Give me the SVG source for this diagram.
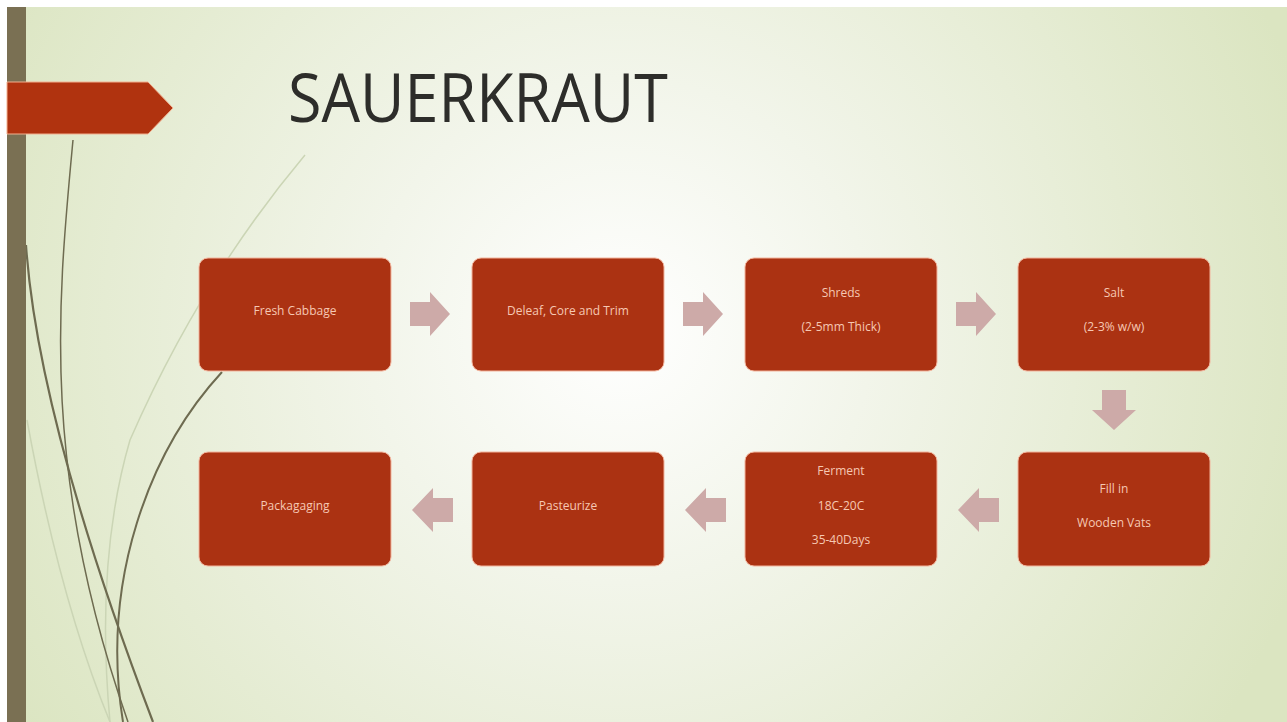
<svg xmlns="http://www.w3.org/2000/svg" width="1287" height="722" viewBox="0 0 1287 722">
<defs>
<radialGradient id="bg" cx="620" cy="330" r="720" gradientUnits="userSpaceOnUse">
<stop offset="0" stop-color="#ffffff"/>
<stop offset="0.35" stop-color="#f2f5ea"/>
<stop offset="1" stop-color="#dbe5c1"/>
</radialGradient>
<style>
.box{fill:#ab3212;stroke:#f3b49c;stroke-width:1}
.lbl{font-family:"Open Sans","Liberation Sans",sans-serif;font-size:12px;fill:#f6c8b3;text-anchor:middle;dominant-baseline:central}
.arr{fill:#cdaaa8}
.curve{fill:none;stroke:#6e6b50}
.faint{fill:none;stroke:#cbd5b5}
</style>
</defs>
<rect x="0" y="0" width="1287" height="722" fill="#ffffff"/>
<rect x="7" y="7" width="1280" height="715" fill="url(#bg)"/>
<g id="decor">
<path class="faint" stroke-width="1.5" d="M305 155 Q200 280 130 440 Q95 560 110 722"/>
<path class="faint" stroke-width="1.5" d="M27 420 Q60 600 110 722"/>
<path class="curve" stroke-width="1.5" d="M73 140 C58 300, 40 470, 128 722"/>
<path class="curve" stroke-width="2.2" d="M26 245 Q38 420 153 722"/>
<path class="curve" stroke-width="2" d="M222 372 C150 450, 100 580, 123 722"/>
<rect x="7" y="7" width="19" height="715" fill="#7a7053"/>
<path d="M7 82 H148 L173 108 L148 134 H7 Z" fill="#b0330f" stroke="#f2b08f" stroke-width="1"/>
</g>
<text x="288" y="122" font-family="'Open Sans','Liberation Sans',sans-serif" font-size="68" fill="#2d2d2a" textLength="380" lengthAdjust="spacingAndGlyphs">SAUERKRAUT</text>
<g id="connectors">
<path class="arr" d="M410 302 H430 V292 L450 314 L430 336 V326 H410 Z"/>
<path class="arr" d="M683 302 H703 V292 L723 314 L703 336 V326 H683 Z"/>
<path class="arr" d="M956 302 H976 V292 L996 314 L976 336 V326 H956 Z"/>
<path class="arr" d="M1102 390 H1126 V410 H1136 L1114 430 L1092 410 H1102 Z"/>
<path class="arr" d="M999 498 H979 V488 L958 510 L979 532 V522 H999 Z"/>
<path class="arr" d="M726 498 H706 V488 L685 510 L706 532 V522 H726 Z"/>
<path class="arr" d="M453 498 H433 V488 L412 510 L433 532 V522 H453 Z"/>
</g>
<g id="n1"><rect class="box" x="199" y="258" width="192" height="113" rx="9"/><text class="lbl" x="295" y="310">Fresh Cabbage</text></g>
<g id="n2"><rect class="box" x="472" y="258" width="192" height="113" rx="9"/><text class="lbl" x="568" y="310">Deleaf, Core and Trim</text></g>
<g id="n3"><rect class="box" x="745" y="258" width="192" height="113" rx="9"/><text class="lbl" x="841" y="292">Shreds</text><text class="lbl" x="841" y="326">(2-5mm Thick)</text></g>
<g id="n4"><rect class="box" x="1018" y="258" width="192" height="113" rx="9"/><text class="lbl" x="1114" y="292">Salt</text><text class="lbl" x="1114" y="326">(2-3% w/w)</text></g>
<g id="n5"><rect class="box" x="1018" y="452" width="192" height="114" rx="9"/><text class="lbl" x="1114" y="488">Fill in</text><text class="lbl" x="1114" y="522">Wooden Vats</text></g>
<g id="n6"><rect class="box" x="745" y="452" width="192" height="114" rx="9"/><text class="lbl" x="841" y="470">Ferment</text><text class="lbl" x="841" y="505">18C-20C</text><text class="lbl" x="841" y="539">35-40Days</text></g>
<g id="n7"><rect class="box" x="472" y="452" width="192" height="114" rx="9"/><text class="lbl" x="568" y="505">Pasteurize</text></g>
<g id="n8"><rect class="box" x="199" y="452" width="192" height="114" rx="9"/><text class="lbl" x="295" y="505">Packagaging</text></g>
</svg>
